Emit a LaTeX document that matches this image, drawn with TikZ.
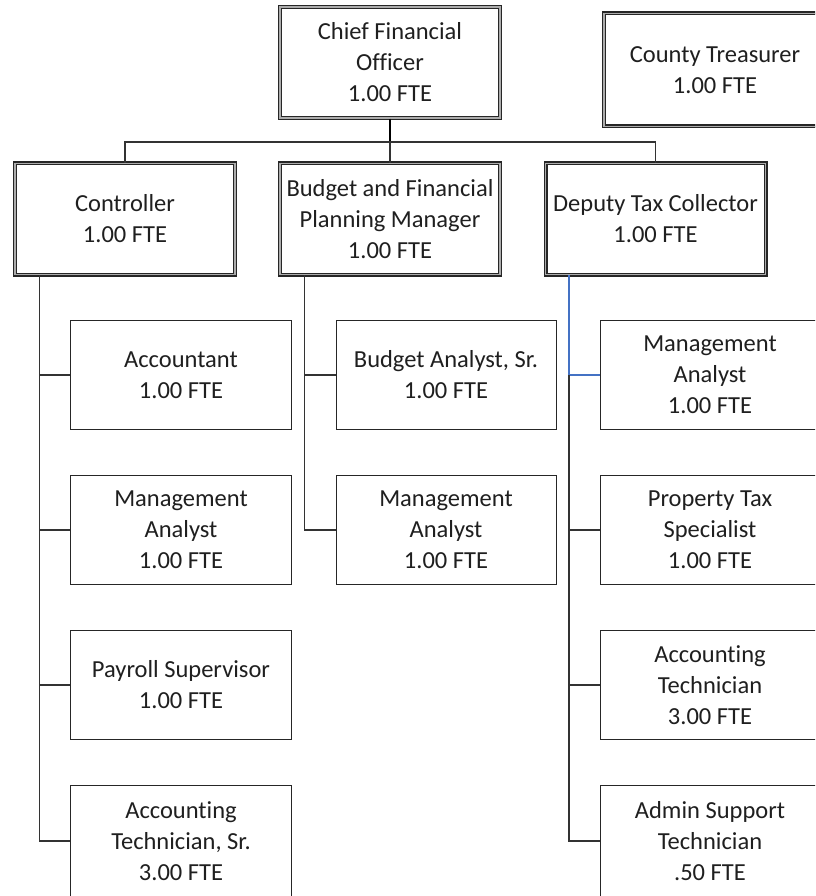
\documentclass[tikz,border=0pt]{standalone}
\usepackage{fontspec}
\setmainfont[Ligatures={NoCommon}]{Carlito}
\definecolor{officeblue}{HTML}{4472C4}
\begin{document}
\begin{tikzpicture}[x=1pt,y=-1pt,
  txt/.style={font=\fontsize{24.5}{31}\selectfont, text=black!88, align=center, inner sep=0pt},
  headbox/.style={txt, draw=black!85, line width=1.1pt, double=gray!65, double distance=1.8pt, minimum width=220pt, minimum height=111pt},
  staffbox/.style={txt, draw=black!85, line width=1pt, minimum width=221pt, minimum height=109pt},
  conn/.style={draw=black!80, line width=1.1pt},
  blueconn/.style={draw=officeblue, line width=1.1pt}]
\useasboundingbox (0,0) rectangle (815,896);
\clip (0,0) rectangle (815,896);
\fill[white] (0,0) rectangle (815,896);
% level 1
\node[headbox] (cfo) at (390,62.5) {Chief Financial\\Officer\\1.00 FTE};
\node[headbox, minimum width=222pt, minimum height=113pt] (ct) at (715,70) {County Treasurer\\1.00 FTE};
% level 2
\node[headbox] (ctrl) at (125,219) {Controller\\1.00 FTE};
\node[headbox] (bud) at (390,219) {Budget and Financial\\Planning Manager\\1.00 FTE};
\node[headbox] (dep) at (655.5,219) {Deputy Tax Collector\\1.00 FTE};
% left column
\node[staffbox] (acc) at (181,375) {Accountant\\1.00 FTE};
\node[staffbox] (ma1) at (181,530) {Management\\Analyst\\1.00 FTE};
\node[staffbox] (pay) at (181,685) {Payroll Supervisor\\1.00 FTE};
\node[staffbox, minimum height=112pt] (ats) at (181,841) {Accounting\\Technician, Sr.\\3.00 FTE};
% middle column
\node[staffbox, minimum width=220pt] (bas) at (446,375) {Budget Analyst, Sr.\\1.00 FTE};
\node[staffbox, minimum width=220pt] (ma2) at (446,530) {Management\\Analyst\\1.00 FTE};
% right column
\node[staffbox, minimum width=220pt] (ma3) at (710,375) {Management\\Analyst\\1.00 FTE};
\node[staffbox, minimum width=220pt] (pts) at (710,530) {Property Tax\\Specialist\\1.00 FTE};
\node[staffbox, minimum width=220pt] (act) at (710,685) {Accounting\\Technician\\3.00 FTE};
\node[staffbox, minimum width=220pt, minimum height=112pt] (ast) at (710,841) {Admin Support\\Technician\\.50 FTE};
% connectors top
\coordinate (j) at (cfo.south |- 0,142);
\draw[conn, line width=1.6pt, draw=black] (cfo.south) -- (j);
\draw[conn] (j) -| (ctrl.north);
\draw[conn] (j) -| (dep.north);
\draw[conn] (j) -- (bud.north);
% controller
\draw[conn] ([xshift=25pt]ctrl.south west) |- (acc.west);
\draw[conn] ([xshift=25pt]ctrl.south west) |- (ma1.west);
\draw[conn] ([xshift=25pt]ctrl.south west) |- (pay.west);
\draw[conn] ([xshift=25pt]ctrl.south west) |- (ats.west);
% budget
\draw[conn] ([xshift=25pt]bud.south west) |- (bas.west);
\draw[conn] ([xshift=25pt]bud.south west) |- (ma2.west);
% deputy
\coordinate (dj) at ([xshift=24pt]dep.south west |- ma3.west);
\draw[blueconn] ([xshift=24pt]dep.south west) |- (ma3.west);
\draw[conn] (dj) |- (pts.west);
\draw[conn] (dj) |- (act.west);
\draw[conn] (dj) |- (ast.west);
\end{tikzpicture}
\end{document}
